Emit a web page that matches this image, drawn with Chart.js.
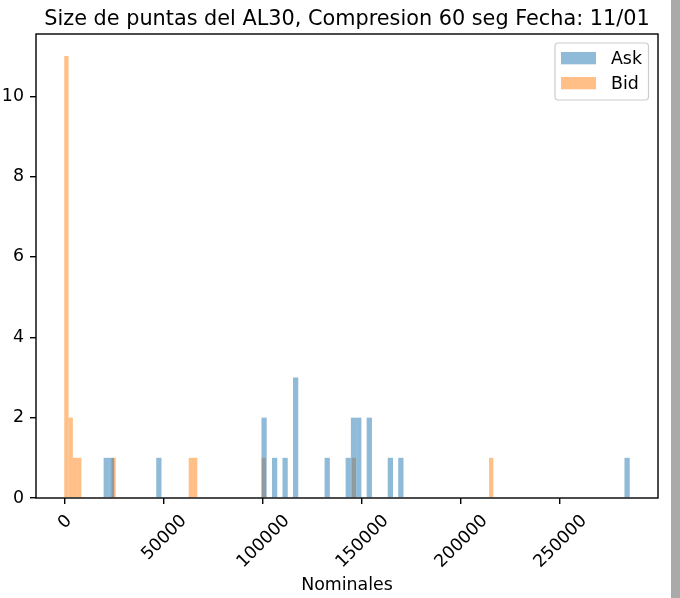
<!DOCTYPE html>
<html><head><meta charset="utf-8">
<script src="https://cdn.jsdelivr.net/npm/chart.js@4.4.1/dist/chart.umd.min.js"></script>
<style>
html,body{margin:0;padding:0;background:#fff;}
#wrap{position:relative;width:680px;height:598px;overflow:hidden;}
#strip{position:absolute;left:671px;top:0;width:9px;height:598px;background:#aaaaaa;}
</style></head><body>
<div id="wrap"><canvas id="c"></canvas><div id="strip"></div></div>
<script>
const titleText = 'Size de puntas del AL30, Compresion 60 seg Fecha: 11/01';
const xAxisLabel = 'Nominales';
const seriesNames = ['Ask', 'Bid'];

// Histogram bins (bin centre in Nominales) and counts
const askBinCenters = [21188, 23844, 47748, 100868, 106180, 111492, 116804, 132740, 143364, 146020, 148676, 153988, 164612, 169924, 284132];
const askCounts     = [1, 1, 1, 2, 1, 1, 3, 1, 1, 2, 2, 2, 1, 1, 1];
const bidBinCenters = [1083, 3249, 5415, 7581, 24909, 63897, 66063, 100719, 146205, 215517];
const bidCounts     = [11, 2, 1, 1, 1, 1, 1, 1, 1, 1];

const xTickValues = [0, 50000, 100000, 150000, 200000, 250000];
const yTickValues = [0, 2, 4, 6, 8, 10];

const xMin = -14273, xMax = 299733;
const yMin = 0, yMax = 11.55;

const FONT = '"DejaVu Sans", "Liberation Sans", sans-serif';
Chart.defaults.color = '#000';
Chart.defaults.font.family = FONT;

function roundRectPath(ctx, x, y, w, h, r) {
  ctx.beginPath();
  ctx.moveTo(x + r, y);
  ctx.lineTo(x + w - r, y);
  ctx.arcTo(x + w, y, x + w, y + r, r);
  ctx.lineTo(x + w, y + h - r);
  ctx.arcTo(x + w, y + h, x + w - r, y + h, r);
  ctx.lineTo(x + r, y + h);
  ctx.arcTo(x, y + h, x, y + h - r, r);
  ctx.lineTo(x, y + r);
  ctx.arcTo(x, y, x + r, y, r);
  ctx.closePath();
}

const decor = {
  id: 'decor',
  afterDatasetsDraw(chart) {
    const {ctx, chartArea: a} = chart;
    ctx.save();
    ctx.strokeStyle = '#000';
    ctx.lineWidth = 1.4;
    ctx.strokeRect(a.left, a.top, a.right - a.left, a.bottom - a.top);
    ctx.restore();
  },
  afterDraw(chart) {
    const {ctx, chartArea: a} = chart;
    const x = chart.scales.x;
    const cx = (a.left + a.right) / 2;
    ctx.save();
    ctx.fillStyle = '#000';
    ctx.textBaseline = 'alphabetic';
    ctx.textAlign = 'center';
    // title
    ctx.font = '20.8px ' + FONT;
    ctx.fillText(titleText, cx, a.top - 9);
    // x axis label
    ctx.font = '17.4px ' + FONT;
    ctx.fillText(xAxisLabel, cx, 590);
    // rotated x tick labels (centred like matplotlib)
    const fs = 17.4, h = fs * 1.164, asc = 0.928 * fs;
    x.ticks.forEach(t => {
      const px = x.getPixelForValue(t.value);
      const s = String(t.value);
      const w = ctx.measureText(s).width;
      const B = (w + h) * Math.SQRT1_2;
      const cy = a.bottom + 12 + B / 2;
      ctx.save();
      ctx.translate(px, cy);
      ctx.rotate(-Math.PI / 4);
      ctx.textAlign = 'center';
      ctx.fillText(s, 0, asc - h / 2);
      ctx.restore();
    });
    // legend
    const ds = chart.data.datasets;
    let maxW = 0;
    ds.forEach(d => { maxW = Math.max(maxW, ctx.measureText(d.label).width); });
    const boxW = 6 + 35 + 15 + maxW + 6.5;
    const boxH = 57;
    const boxR = a.right - 9.5;
    const boxL = boxR - boxW;
    const boxT = a.top + 9;
    roundRectPath(ctx, boxL, boxT, boxW, boxH, 3.5);
    ctx.fillStyle = 'rgba(255,255,255,0.8)';
    ctx.fill();
    ctx.strokeStyle = '#cccccc';
    ctx.lineWidth = 1.2;
    ctx.stroke();
    ctx.textAlign = 'left';
    ds.forEach((d, i) => {
      const py = boxT + 9 + i * 25;
      ctx.fillStyle = d.backgroundColor;
      ctx.fillRect(boxL + 6, py, 35, 12.3);
      ctx.fillStyle = '#000';
      ctx.fillText(d.label, boxL + 56, py + 12.3);
    });
    ctx.restore();
  }
};

const tickGrid = {offset: false, drawOnChartArea: false, drawTicks: true, tickLength: 6, color: '#000', lineWidth: 1.4};

new Chart(document.getElementById('c'), {
  type: 'bar',
  data: {
    datasets: [
      {
        label: seriesNames[0],
        data: askBinCenters.map((v, i) => ({x: v, y: askCounts[i]})),
        backgroundColor: 'rgba(31,119,180,0.5)',
        barThickness: 5.26,
        grouped: false,
        inflateAmount: 0,
        borderWidth: 0
      },
      {
        label: seriesNames[1],
        data: bidBinCenters.map((v, i) => ({x: v, y: bidCounts[i]})),
        backgroundColor: 'rgba(255,127,14,0.5)',
        barThickness: 4.29,
        grouped: false,
        inflateAmount: 0,
        borderWidth: 0
      }
    ]
  },
  options: {
    responsive: true,
    maintainAspectRatio: false,
    animation: false,
    layout: {padding: {top: 34, right: 22, left: 0, bottom: 0}},
    plugins: {legend: {display: false}, title: {display: false}, tooltip: {enabled: false}},
    scales: {
      x: {
        type: 'linear', min: xMin, max: xMax, offset: false,
        border: {display: false},
        grid: tickGrid,
        ticks: {display: false},
        afterBuildTicks(s) { s.ticks = xTickValues.map(v => ({value: v})); },
        afterFit(s) { s.height = 100; }
      },
      y: {
        min: yMin, max: yMax,
        border: {display: false},
        grid: tickGrid,
        ticks: {padding: 6, color: '#000', font: {family: FONT, size: 17.4}},
        afterBuildTicks(s) { s.ticks = yTickValues.map(v => ({value: v})); },
        afterFit(s) { s.width = 36; }
      }
    }
  },
  plugins: [decor]
});
</script>
</body></html>
